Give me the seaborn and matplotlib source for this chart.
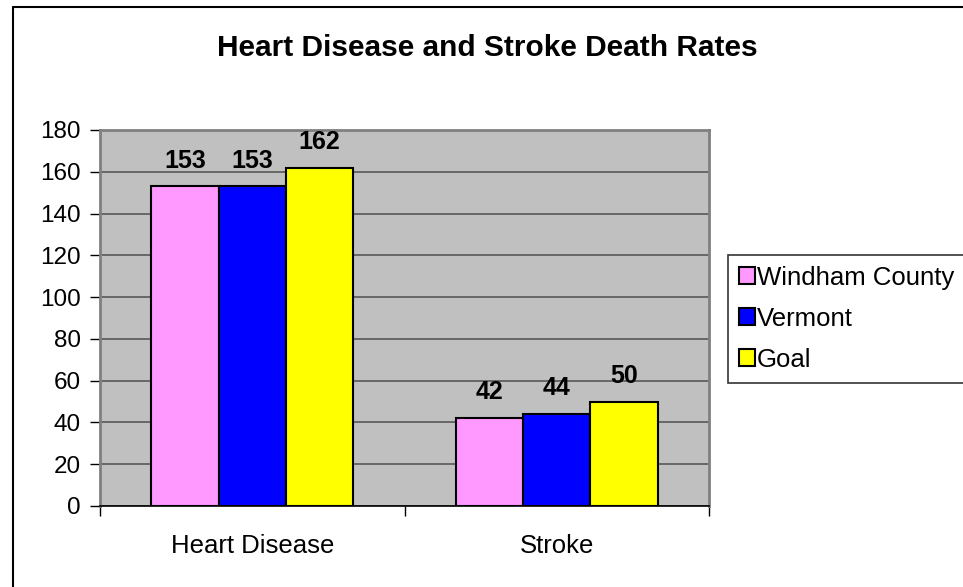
import matplotlib
matplotlib.use("Agg")
import matplotlib.pyplot as plt
import seaborn as sns
import pandas as pd
from matplotlib.lines import Line2D
from matplotlib.patches import Patch

categories = ["Heart Disease", "Stroke"]
series_names = ["Windham County", "Vermont", "Goal"]
windham = [153, 42]
vermont = [153, 44]
goal = [162, 50]
colors = ["#FF99FF", "#0000FF", "#FFFF00"]
yticks = [0, 20, 40, 60, 80, 100, 120, 140, 160, 180]

rows = []
for name, vals in zip(series_names, [windham, vermont, goal]):
    for c, v in zip(categories, vals):
        rows.append({"category": c, "series": name, "value": v})
df = pd.DataFrame(rows)

sns.set_style("white")
plt.rcParams['font.family'] = ['Liberation Sans', 'DejaVu Sans']
plt.rcParams['text.color'] = 'black'
plt.rcParams['xtick.color'] = 'black'
plt.rcParams['ytick.color'] = 'black'
plt.rcParams['axes.labelcolor'] = 'black'

fig = plt.figure(figsize=(9.63, 5.87), dpi=100)
ax = fig.add_axes([100/963, 81/587, 609/963, 376/587])
ax.set_facecolor("#C0C0C0")

sns.barplot(data=df, x="category", y="value", hue="series", palette=colors,
            hue_order=series_names, order=categories, width=0.664,
            edgecolor="black", linewidth=1.5, saturation=1, ax=ax, legend=False, zorder=3)

ax.set_ylim(0, 180)
ax.set_xlim(-0.5, 1.5)
ax.set_yticks(yticks)
ax.set_yticklabels([str(t) for t in yticks], fontsize=17.5)
ax.yaxis.grid(True, color="#606060", linewidth=1.3, zorder=0)
ax.set_axisbelow(True)
ax.tick_params(axis="y", direction="out", length=7, width=1, color="black", left=True, pad=7)
ax.set_xticks([0, 1])
ax.set_xticklabels(categories, fontsize=18.5)
ax.tick_params(axis="x", which="major", length=0, pad=20)
ax.set_xticks([-0.5, 0.5, 1.5], minor=True)
ax.tick_params(axis="x", which="minor", direction="out", length=7, width=1, color="black", bottom=True)
ax.set_xlabel("")
ax.set_ylabel("")

ax.spines["bottom"].set_color("black")
ax.spines["bottom"].set_linewidth(1.2)
for s in ["top", "right", "left"]:
    ax.spines[s].set_color("#808080")
    ax.spines[s].set_linewidth(2)

for cont in ax.containers:
    ax.bar_label(cont, labels=[f"{v:.0f}" for v in cont.datavalues], padding=10,
                 fontsize=18, fontweight="bold")

fig.text(487/963, 1 - 56/587, "Heart Disease and Stroke Death Rates",
         ha="center", va="baseline", fontsize=21.5, fontweight="bold")

# figure border (top and left visible)
fig.add_artist(Line2D([13/963, 1.0], [1 - 7/587, 1 - 7/587], color="black", linewidth=1.5, transform=fig.transFigure))
fig.add_artist(Line2D([13/963, 13/963], [0, 1 - 7/587], color="black", linewidth=1.5, transform=fig.transFigure))

handles = [Patch(facecolor=c, edgecolor="black", linewidth=1.5) for c in colors]
leg = fig.legend(handles, series_names, loc="upper left", bbox_to_anchor=(728/963, 1 - 255/587),
                 fontsize=18.5, frameon=True, fancybox=False, edgecolor="black",
                 handlelength=0.65, handleheight=0.65, handletextpad=0.05, labelspacing=0.66,
                 borderpad=0.42, borderaxespad=0)
leg.get_frame().set_linewidth(1.2)

fig.savefig("out.png", dpi=100)
